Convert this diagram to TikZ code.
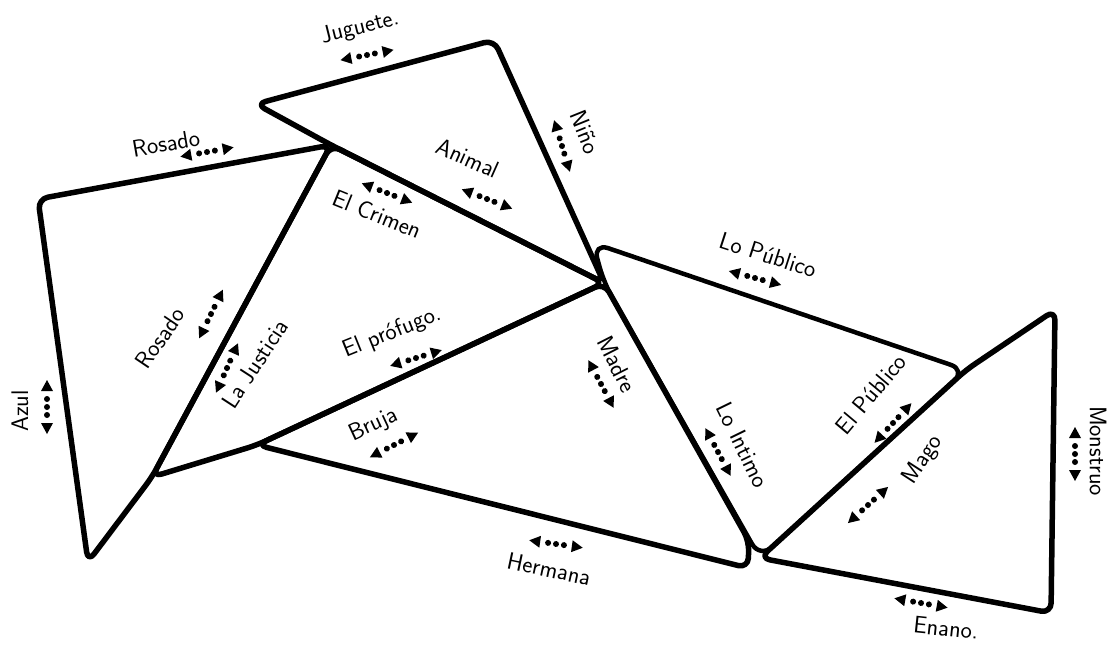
\documentclass[tikz,border=0pt]{standalone}
\usepackage{tikz}

\begin{document}
\begin{tikzpicture}[x=1pt,y=-1pt,line join=round,
    tri/.style={line width=5.5pt,rounded corners=10pt},
    lbl/.style={font=\sffamily\fontsize{24}{26}\selectfont,inner sep=0pt},
    rel/.pic={
      \fill (-27,0) -- (-16,-6) -- (-16,6) -- cycle;
      \fill (27,0) -- (16,-6) -- (16,6) -- cycle;
      \foreach \d in {-8,0,8} \fill (\d,0) circle (3pt);
    }]
  \useasboundingbox (0,0) rectangle (1110,645);

  \coordinate (a) at (38,199);
  \coordinate (b) at (331,145);
  \coordinate (e) at (152,477);
  \coordinate (c) at (88,562);
  \coordinate (d) at (604,283);
  \coordinate (f) at (256,104);
  \coordinate (g) at (494,40);
  \coordinate (h) at (257,445);
  \coordinate (p) at (749,541);
  \coordinate (i) at (748,568);
  \coordinate (j) at (593,243);
  \coordinate (k) at (966,370);
  \coordinate (l) at (760,558);
  \coordinate (m) at (1055,310);
  \coordinate (n) at (1051,613);

  \draw[tri] (a) -- (b) -- (e) -- (c) -- cycle;
  \draw[tri] (b) -- (d) -- (h) -- (e) -- cycle;
  \draw[tri] (f) -- (g) -- (d) -- (b) -- cycle;
  \draw[tri] (h) -- (d) -- (p) -- (i) -- cycle;
  \draw[tri,line width=4.5pt,rounded corners=16pt] (j) -- (k) -- (l) -- (d) -- cycle;
  \draw[tri] (l) -- (k) -- (m) -- (n) -- cycle;

  \node[lbl,rotate=14] (juguete) at (360,28) {Juguete.};
  \pic[rotate=11] (rjuguete) at (367,55) {rel};
  \node[lbl,rotate=10] (rosado1) at (166,143) {Rosado};
  \pic[rotate=10] (rrosado1) at (207,152) {rel};
  \node[lbl,rotate=-68] (nino) at (585,132) {Niño};
  \pic[rotate=-73] (rnino) at (562,146) {rel};
  \node[lbl,rotate=-24] (animal) at (468,158) {Animal};
  \pic[rotate=-21] (ranimal) at (487,199) {rel};
  \node[lbl,rotate=-22] (crimen) at (377,214) {El Crimen};
  \pic[rotate=-21] (rcrimen) at (387,193) {rel};
  \node[lbl,rotate=-18] (lopublico) at (768,255) {Lo Público};
  \pic[rotate=-15] (rlopublico) at (755,278) {rel};
  \node[lbl,rotate=56] (rosado2) at (160,338) {Rosado};
  \pic[rotate=64] (rrosado2) at (211,314) {rel};
  \node[lbl,rotate=57] (justicia) at (255,364) {La Justicia};
  \pic[rotate=66] (rjusticia) at (227,368) {rel};
  \node[lbl,rotate=90] (azul) at (20,411) {Azul};
  \pic[rotate=90] (razul) at (47,407) {rel};
  \node[lbl,rotate=22] (profugo) at (392,333) {El prófugo.};
  \pic[rotate=17] (rprofugo) at (416,358) {rel};
  \node[lbl,rotate=25] (bruja) at (374,425) {Bruja};
  \pic[rotate=27] (rbruja) at (394,445) {rel};
  \node[lbl,rotate=-63] (madre) at (617,364) {Madre};
  \pic[rotate=-62] (rmadre) at (601,384) {rel};
  \node[lbl,rotate=-64] (intimo) at (743,445) {Lo Intimo};
  \pic[rotate=-62] (rintimo) at (718,452) {rel};
  \node[lbl,rotate=-12] (hermana) at (549,569) {Hermana};
  \pic[rotate=-8] (rhermana) at (556,544) {rel};
  \node[lbl,rotate=50] (elpublico) at (871,394) {El Público};
  \pic[rotate=47] (relpublico) at (893,423) {rel};
  \node[lbl,rotate=57] (mago) at (923,460) {Mago};
  \pic[rotate=42] (rmago) at (868,505) {rel};
  \node[lbl,rotate=-90] (monstruo) at (1098,451) {Monstruo};
  \pic[rotate=90] (rmonstruo) at (1075,454) {rel};
  \node[lbl,rotate=-6] (enano) at (946,628) {Enano.};
  \pic[rotate=-10] (renano) at (921,603) {rel};
\end{tikzpicture}
\end{document}
